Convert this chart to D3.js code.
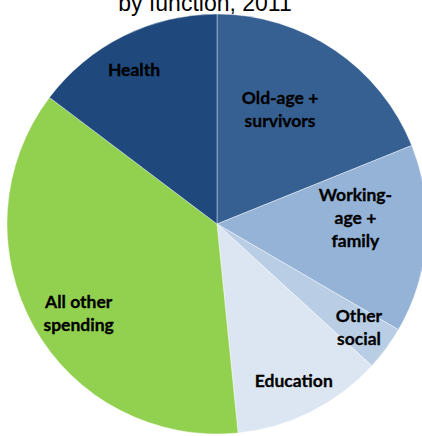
<!DOCTYPE html>
<html>
<head>
<meta charset="utf-8">
<script src="https://cdn.jsdelivr.net/npm/d3@7"></script>
<style>
  body { margin: 0; background: #fff; }
  svg { display: block; }
</style>
</head>
<body>
<svg id="chart" width="422" height="436"></svg>
<script>
// shares of spending (percent)
const categories = ["Old-age + survivors", "Working-age + family", "Other social", "Education", "All other spending", "Health"];
const shares = [18.9, 14.5, 3.4, 11.6, 36.9, 14.7];
const labelLines = [["Old-age +", "survivors"], ["Working-", "age +", "family"], ["Other", "social"], ["Education"], ["All other", "spending"], ["Health"]];
const colors = ["#376092", "#95b3d7", "#b9cde5", "#dce6f2", "#92d050", "#1f497d"];
const title = "by function, 2011";

const svg = d3.select("#chart");
const cx = 217, cy = 224, r = 210;

svg.append("text")
  .attr("x", 205)
  .attr("y", 11)
  .attr("text-anchor", "middle")
  .style("font-family", "'Liberation Sans', Arial, sans-serif")
  .style("font-size", "23px")
  .attr("fill", "#000")
  .text(title);

const data = categories.map((c, i) => ({ name: c, value: shares[i], lines: labelLines[i], color: colors[i] }));

const pie = d3.pie().sort(null).value(d => d.value);
const arc = d3.arc().innerRadius(0).outerRadius(r);

// label placement: share of radius, and nudge off the slice's mid angle (degrees)
const labelPos = {
  "Old-age + survivors": [0.625, -5.3],
  "Working-age + family": [0.66, -6.8],
  "Other social": [0.835, -0.4],
  "Education": [0.83, 0.5],
  "All other spending": [0.785, -3.6],
  "Health": [0.835, -1.8]
};

const g = svg.append("g").attr("transform", "translate(" + cx + "," + cy + ")");

const slices = pie(data);

g.selectAll("path")
  .data(slices)
  .enter()
  .append("path")
  .attr("d", arc)
  .attr("fill", d => d.data.color)
  .attr("stroke", "#fff")
  .attr("stroke-width", 0.4);

const lineH = 23;
const lbl = g.selectAll(".lbl")
  .data(slices)
  .enter()
  .append("text")
  .attr("class", "lbl")
  .attr("transform", d => {
    const p = labelPos[d.data.name];
    const a = (d.startAngle + d.endAngle) / 2 + p[1] * Math.PI / 180;
    const k = p[0] * r;
    return "translate(" + (Math.sin(a) * k) + "," + (-Math.cos(a) * k) + ")";
  })
  .attr("text-anchor", "middle")
  .style("font-family", "Lato, 'Open Sans', sans-serif")
  .style("font-weight", "bold")
  .style("font-size", "17.5px")
  .attr("fill", "#000")
  .attr("stroke", "#000")
  .attr("stroke-width", 0.3);

lbl.selectAll("tspan")
  .data(d => d.data.lines.map((t, i, a) => ({ t, i, n: a.length })))
  .enter()
  .append("tspan")
  .attr("x", 0)
  .attr("y", d => (d.i - (d.n - 1) / 2) * lineH)
  .attr("dy", "0.35em")
  .text(d => d.t);
</script>
</body>
</html>
